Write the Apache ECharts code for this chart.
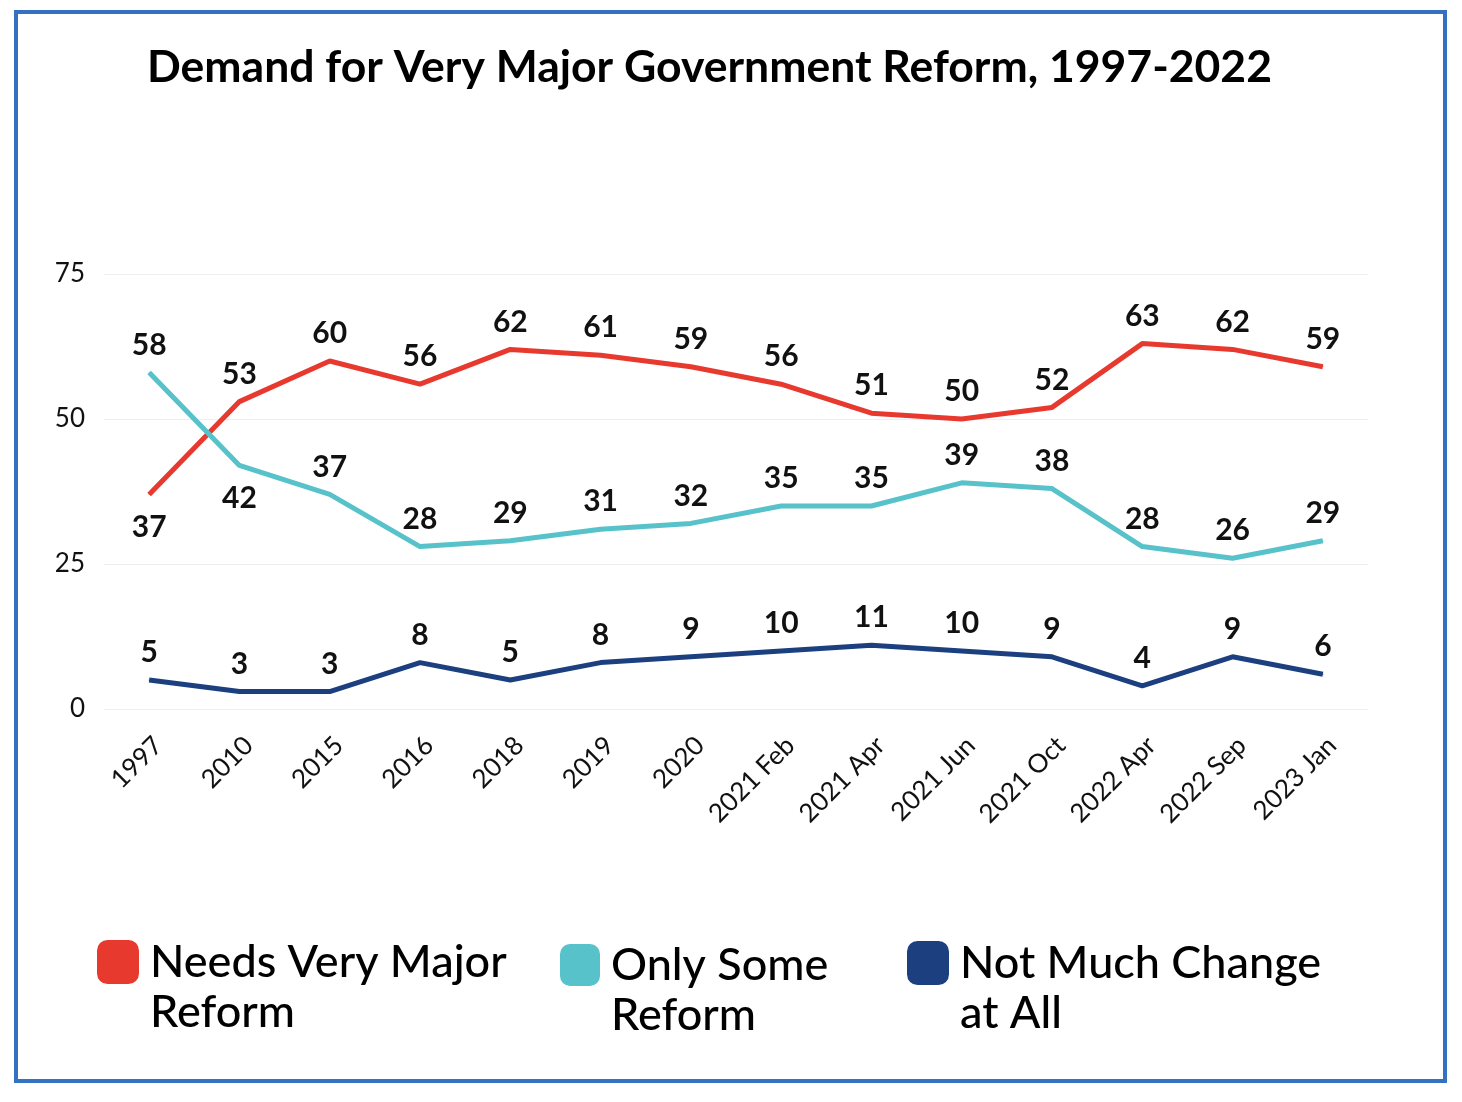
<!DOCTYPE html>
<html>
<head>
<meta charset="utf-8">
<script src="https://cdn.jsdelivr.net/npm/echarts@6/dist/echarts.min.js"></script>
<style>
html,body{margin:0;padding:0;background:#fff;}
#chart{width:1462px;height:1102px;}
</style>
</head>
<body>
<div id="chart"></div>
<script>
const categories = ['1997','2010','2015','2016','2018','2019','2020','2021 Feb','2021 Apr','2021 Jun','2021 Oct','2022 Apr','2022 Sep','2023 Jan'];
const needsMajor = [37,53,60,56,62,61,59,56,51,50,52,63,62,59];
const onlySome = [58,42,37,28,29,31,32,35,35,39,38,28,26,29];
const notMuch = [5,3,3,8,5,8,9,10,11,10,9,4,9,6];
const yTicks = [0,25,50,75];
const seriesNames = ['Needs Very Major\nReform', 'Only Some\nReform', 'Not Much Change\nat All'];

const needsBelow = [0];
const someBelow = [1];

const FONT = 'Lato, "Noto Sans", sans-serif';

function mkData(vals, below){
  return vals.map((v,i)=> below.indexOf(i)>=0 ? {value:v, label:{position:'bottom', distance:17}} : v);
}

const chart = echarts.init(document.getElementById('chart'));
const lbl = {show:true, position:'top', distance:12, fontFamily:FONT, fontWeight:'bold', fontSize:30, color:'#111'};
const legendText = {fontFamily:FONT, fontSize:45, color:'#000', lineHeight:50,
  rich:{t:{fontFamily:FONT, fontSize:45, fontWeight:500, color:'#000', lineHeight:50, padding:[0,0,0,6]},
        e:{fontSize:45, lineHeight:50}}};
const legendFmt = name => '{e| }\n' + name.split('\n').map(s=>'{t|'+s+'}').join('\n');

chart.setOption({
  backgroundColor:'#fff',
  animation:false,
  title:{text:'Demand for Very Major Government Reform, 1997-2022', left:142, top:40,
    textStyle:{fontFamily:FONT, fontSize:44.5, fontWeight:'bold', color:'#000'}},
  graphic:[{type:'rect', shape:{x:16,y:12,width:1429,height:1069}, style:{fill:'none', stroke:'#3472C1', lineWidth:4}, silent:true}],
  legend:[
    {data:[seriesNames[0]], left:97, top:887, padding:0, itemWidth:42, itemHeight:44, icon:'roundRect', formatter:legendFmt, textStyle:legendText},
    {data:[seriesNames[1]], left:560, top:890, padding:0, itemWidth:40, itemHeight:42, icon:'roundRect', formatter:legendFmt, textStyle:legendText},
    {data:[seriesNames[2]], left:907, top:888, padding:0, itemWidth:42, itemHeight:44, icon:'roundRect', formatter:legendFmt, textStyle:legendText}
  ],
  grid:{left:104, right:94, top:274, bottom:393, containLabel:false},
  xAxis:{type:'category', data:categories, boundaryGap:true,
    axisLine:{show:false}, axisTick:{show:false},
    axisLabel:{rotate:45, fontFamily:FONT, fontSize:26, color:'#111', margin:23, interval:0, verticalAlign:'top'}},
  yAxis:{type:'value', min:0, max:75, interval:25,
    axisLine:{show:false}, axisTick:{show:false},
    splitLine:{lineStyle:{color:'#eeeeee', width:1}},
    axisLabel:{fontFamily:FONT, fontSize:26, color:'#111', margin:19,
      formatter:v=> yTicks.indexOf(v)>=0 ? String(v) : ''}},
  series:[
    {name:seriesNames[0], type:'line', data:mkData(needsMajor, needsBelow), showSymbol:true, symbol:'circle', symbolSize:1,
      lineStyle:{color:'#E8392F', width:5}, itemStyle:{color:'#E8392F'}, label:lbl},
    {name:seriesNames[1], type:'line', data:mkData(onlySome, someBelow), showSymbol:true, symbol:'circle', symbolSize:1,
      lineStyle:{color:'#58C2CA', width:5}, itemStyle:{color:'#58C2CA'}, label:lbl},
    {name:seriesNames[2], type:'line', data:notMuch, showSymbol:true, symbol:'circle', symbolSize:1,
      lineStyle:{color:'#1B3F7F', width:5}, itemStyle:{color:'#1B3F7F'}, label:lbl}
  ]
});
</script>
</body>
</html>
